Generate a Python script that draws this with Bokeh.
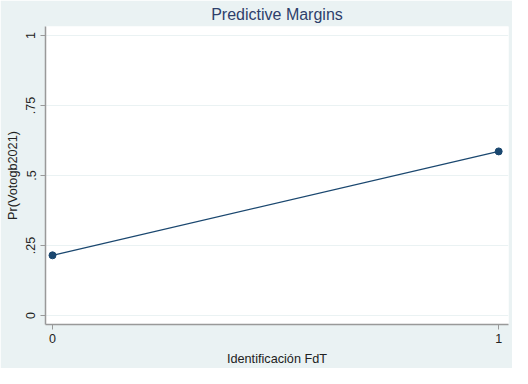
from bokeh.plotting import figure
from bokeh.models import Range1d, FixedTicker
from bokeh.embed import file_html
from bokeh.resources import INLINE

x_vals = [0, 1]
y_vals = [0.215, 0.586]
y_ticks = [0, 0.25, 0.5, 0.75, 1]
y_tick_labels = ["0", ".25", ".5", ".75", "1"]
x_ticks = [0, 1]

bg = "#EAF2F3"
navy = "#1a476f"
font = "Liberation Sans"

p = figure(width=512, height=368, output_backend="svg", toolbar_location=None,
           x_range=Range1d(-0.0157, 1.022), y_range=Range1d(-0.032, 1.032),
           min_border_left=45, min_border_right=4, min_border_top=26, min_border_bottom=44,
           title="Predictive Margins")
p.background_fill_color = "white"
p.border_fill_color = bg
p.outline_line_color = None

p.title.align = "center"
p.title.text_font = font
p.title.text_font_style = "normal"
p.title.text_font_size = "16px"
p.title.text_color = "#2e3f6b"
p.title.standoff = 7

p.line(x_vals, y_vals, line_color=navy, line_width=1.2)
p.scatter(x_vals, y_vals, size=7, fill_color=navy, line_color=navy)

p.xaxis.ticker = FixedTicker(ticks=x_ticks)
p.yaxis.ticker = FixedTicker(ticks=y_ticks)
p.yaxis.major_label_overrides = {t: l for t, l in zip(y_ticks, y_tick_labels)}
p.yaxis.major_label_orientation = "vertical"
for ax in (p.xaxis[0], p.yaxis[0]):
    ax.axis_line_color = "#999999"
    ax.axis_line_width = 1.5
    ax.major_tick_line_color = "#999999"
    ax.major_tick_out = 5
    ax.major_tick_in = 0
    ax.minor_tick_line_color = None
    ax.major_label_text_font = font
    ax.major_label_text_font_size = "12.5px"
    ax.major_label_text_color = "#222222"
    ax.axis_label_text_font = font
    ax.axis_label_text_font_size = "12.7px"
    ax.axis_label_text_font_style = "normal"
    ax.axis_label_text_color = "#222222"
p.xaxis.axis_label = "Identificación FdT"
p.yaxis.axis_label = "Pr(Votogb2021)"
p.xaxis.axis_label_standoff = 6
p.yaxis.axis_label_standoff = 4
p.xaxis.major_label_standoff = 4
p.yaxis.major_label_standoff = 5

p.xgrid.grid_line_color = None
p.ygrid.grid_line_color = bg
p.ygrid.grid_line_width = 1

html = file_html(p, INLINE)
open("out.html", "w").write(html)
